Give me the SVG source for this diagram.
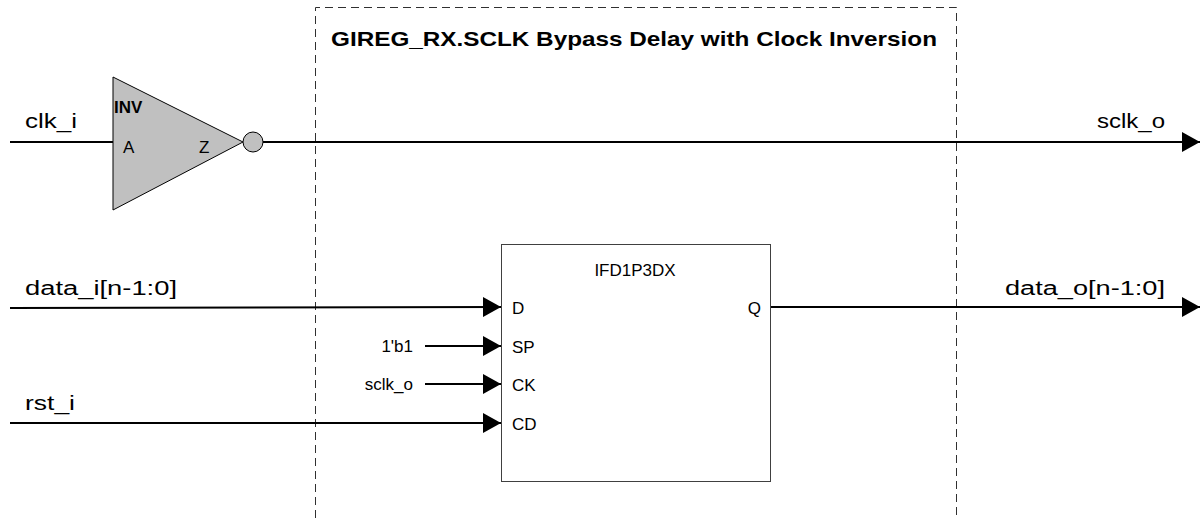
<svg xmlns="http://www.w3.org/2000/svg" width="1201" height="518" viewBox="0 0 1201 518">
<style>
text{font-family:"Liberation Sans","DejaVu Sans",sans-serif;fill:#000}
.sig{font-size:20px}
.pin{font-size:17px}
.wire{stroke:#000;stroke-width:2;fill:none}
</style>
<defs>
<marker id="ah" markerWidth="18" markerHeight="20" refX="18" refY="10" orient="auto" markerUnits="userSpaceOnUse">
<path d="M0,0 L18,10 L0,20 Z" fill="#000"/>
</marker>
</defs>
<rect width="1201" height="518" fill="#fff"/>
<g id="boundary">
<path d="M315.5,518 V7.5 H956.5 V518" fill="none" stroke="#303030" stroke-width="1" stroke-dasharray="8,5"/>
<text x="331" y="46" font-size="21" font-weight="bold" textLength="606" lengthAdjust="spacingAndGlyphs">GIREG_RX.SCLK Bypass Delay with Clock Inversion</text>
</g>
<g id="connectors">
<line class="wire" x1="10" y1="142" x2="113" y2="142"/>
<line class="wire" x1="263" y1="142" x2="1200" y2="142" marker-end="url(#ah)"/>
<line class="wire" x1="10" y1="308" x2="501" y2="307" marker-end="url(#ah)"/>
<line class="wire" x1="425" y1="346" x2="501" y2="346" marker-end="url(#ah)"/>
<line class="wire" x1="425" y1="384" x2="501" y2="384" marker-end="url(#ah)"/>
<line class="wire" x1="10" y1="423" x2="501" y2="423" marker-end="url(#ah)"/>
<line class="wire" x1="770" y1="307" x2="1200" y2="307" marker-end="url(#ah)"/>
</g>
<g id="labels">
<text class="sig" x="25" y="128" textLength="52" lengthAdjust="spacingAndGlyphs">clk_i</text>
<text class="sig" x="25" y="295" textLength="152" lengthAdjust="spacingAndGlyphs">data_i[n-1:0]</text>
<text class="sig" x="25" y="410" textLength="50" lengthAdjust="spacingAndGlyphs">rst_i</text>
<text class="sig" x="1097" y="128" textLength="68" lengthAdjust="spacingAndGlyphs">sclk_o</text>
<text class="sig" x="1005" y="295" textLength="160" lengthAdjust="spacingAndGlyphs">data_o[n-1:0]</text>
<text class="pin" x="413" y="352" text-anchor="end">1'b1</text>
<text class="pin" x="413" y="390" text-anchor="end">sclk_o</text>
</g>
<g id="inv">
<path d="M113,77 L243,142 L113,210 Z" fill="#c0c0c0" stroke="#000" stroke-width="1"/>
<circle cx="253" cy="142" r="10" fill="#c0c0c0" stroke="#000" stroke-width="1"/>
<text x="114" y="113" font-size="17" font-weight="bold">INV</text>
<text class="pin" x="123" y="153">A</text>
<text class="pin" x="199" y="153">Z</text>
</g>
<g id="ifd">
<rect x="501.5" y="244.5" width="269" height="237" fill="#fff" stroke="#404040" stroke-width="1"/>
<text class="pin" x="635" y="276" text-anchor="middle">IFD1P3DX</text>
<text class="pin" x="512" y="314">D</text>
<text class="pin" x="512" y="353">SP</text>
<text class="pin" x="512" y="391">CK</text>
<text class="pin" x="512" y="430">CD</text>
<text class="pin" x="761" y="314" text-anchor="end">Q</text>
</g>
</svg>
